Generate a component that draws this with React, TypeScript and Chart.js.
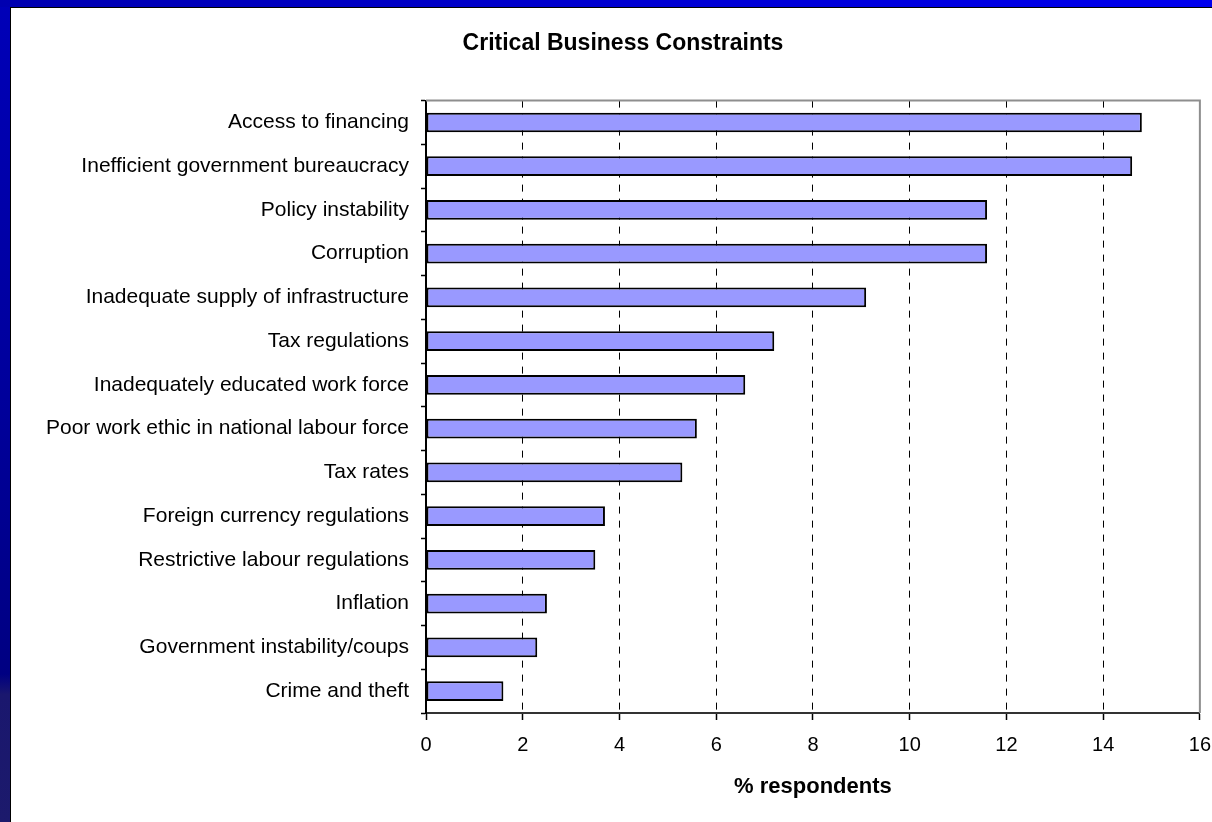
import React, { useEffect, useRef } from "react";
import { Chart, registerables } from "chart.js";

Chart.register(...registerables);

const chartTitle = "Critical Business Constraints";
const xAxisTitle = "% respondents";

const categories = [
  "Access to financing",
  "Inefficient government bureaucracy",
  "Policy instability",
  "Corruption",
  "Inadequate supply of infrastructure",
  "Tax regulations",
  "Inadequately educated work force",
  "Poor work ethic in national labour force",
  "Tax rates",
  "Foreign currency regulations",
  "Restrictive labour regulations",
  "Inflation",
  "Government instability/coups",
  "Crime and theft",
];

const respondents = [14.8, 14.6, 11.6, 11.6, 9.1, 7.2, 6.6, 5.6, 5.3, 3.7, 3.5, 2.5, 2.3, 1.6];

const xMin = 0;
const xMax = 16;
const xStep = 2;

const FONT = "'Liberation Sans', Arial, Helvetica, sans-serif";

export default function App() {
  const ref = useRef<HTMLCanvasElement | null>(null);

  useEffect(() => {
    if (!ref.current) return;
    const framePlugin = {
      id: "plotFrame",
      afterDatasetsDraw(chart: any) {
        const { ctx, chartArea: a } = chart;
        ctx.save();
        ctx.strokeStyle = "#8e8e8e";
        ctx.lineWidth = 2;
        ctx.beginPath();
        ctx.moveTo(a.left, a.top);
        ctx.lineTo(a.right, a.top);
        ctx.lineTo(a.right, a.bottom);
        ctx.stroke();
        ctx.restore();
      },
    };

    const chart = new Chart(ref.current, {
      type: "bar",
      data: {
        labels: categories,
        datasets: [
          {
            data: respondents,
            backgroundColor: "#9999ff",
            borderColor: "#000000",
            borderWidth: 2,
            borderSkipped: false,
            barPercentage: 0.45,
            categoryPercentage: 1,
          },
        ],
      },
      options: {
        indexAxis: "y",
        animation: false,
        responsive: true,
        maintainAspectRatio: false,
        layout: { padding: { left: 12, right: 1, top: 0, bottom: 0 } },
        plugins: {
          legend: { display: false },
          tooltip: { enabled: false },
          title: {
            display: true,
            text: chartTitle,
            color: "#000",
            font: { family: FONT, size: 23, weight: "bold", lineHeight: 1.2 },
            padding: { top: 22, bottom: 43 },
          },
        },
        scales: {
          x: {
            type: "linear",
            min: xMin,
            max: xMax,
            position: "bottom",
            afterFit: (scale: any) => {
              scale.height = 109;
            },
            ticks: {
              stepSize: xStep,
              color: "#000",
              font: { family: FONT, size: 20 },
              padding: 13,
            },
            grid: {
              color: (c: any) =>
                c.tick && (c.tick.value === xMin || c.tick.value === xMax) ? "rgba(0,0,0,0)" : "#000",
              lineWidth: 1,
              tickColor: "#000",
              tickLength: 7,
              tickWidth: 1.5,
              tickBorderDash: [],
            },
            border: { display: true, color: "#333", width: 2, dash: [7, 7] },
            title: {
              display: true,
              text: xAxisTitle,
              color: "#000",
              font: { family: FONT, size: 22, weight: "bold", lineHeight: 1.2 },
              padding: { top: 0, bottom: 22 },
            },
          },
          y: {
            type: "category",
            afterFit: (scale: any) => {
              scale.width = 403;
            },
            ticks: {
              color: "#000",
              font: { family: FONT, size: 21 },
              padding: 12,
              autoSkip: false,
            },
            grid: {
              drawOnChartArea: false,
              drawTicks: true,
              tickLength: 5,
              tickColor: "#000",
              tickWidth: 1.5,
            },
            border: { display: true, color: "#000", width: 2 },
          },
        },
      },
      plugins: [framePlugin],
    });
    return () => chart.destroy();
  }, []);

  return (
    <div
      style={{
        position: "fixed",
        left: 0,
        top: 0,
        width: 1212,
        height: 822,
        overflow: "hidden",
        background: "#0000b0",
      }}
    >
      <div
        style={{
          position: "absolute",
          left: 0,
          top: 0,
          width: 10,
          height: 822,
          background:
            "linear-gradient(to bottom, #0000b8 0%, #00009a 50%, #000082 82%, #1a176e 84.5%, #1c1a6c 100%)",
        }}
      />
      <div
        style={{
          position: "absolute",
          left: 0,
          top: 0,
          width: 1212,
          height: 7,
          background: "linear-gradient(to right, #0000b0 0%, #0000d0 50%, #0000ee 100%)",
        }}
      />
      <div
        style={{
          position: "absolute",
          left: 10,
          top: 7,
          width: 1202,
          height: 815,
          boxSizing: "border-box",
          borderLeft: "1px solid #000",
          borderTop: "1px solid #000",
          background: "#fff",
          overflow: "hidden",
        }}
      >
        <div style={{ position: "absolute", left: 0, top: 0, width: 1213, height: 814 }}>
          <canvas ref={ref} />
        </div>
      </div>
    </div>
  );
}
